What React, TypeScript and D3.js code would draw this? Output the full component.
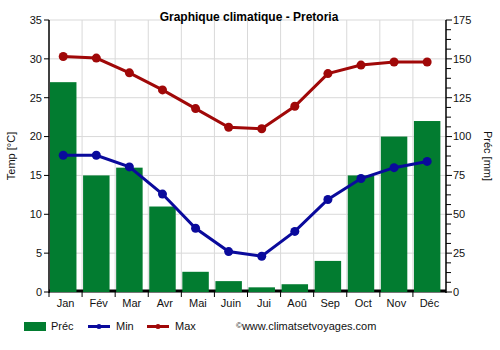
import React from 'react';
import * as d3 from 'd3';

const months = ['Jan', 'Fév', 'Mar', 'Avr', 'Mai', 'Juin', 'Jui', 'Aoû', 'Sep', 'Oct', 'Nov', 'Déc'];
const precip = [135, 75, 80, 55, 13, 7, 3, 5, 20, 75, 100, 110];
const tMin = [17.6, 17.6, 16.1, 12.6, 8.2, 5.2, 4.6, 7.8, 11.9, 14.6, 16.0, 16.8];
const tMax = [30.3, 30.1, 28.2, 26.0, 23.6, 21.2, 21.0, 23.9, 28.1, 29.2, 29.6, 29.6];
const tempTicks = [0, 5, 10, 15, 20, 25, 30, 35];
const precTicks = [0, 25, 50, 75, 100, 125, 150, 175];

const width = 500;
const height = 350;
const margin = { top: 20, right: 54, bottom: 58, left: 49 };
const font = 'Liberation Sans, Arial, sans-serif';

const GREEN = '#027c30';
const BLUE = '#0a0a9c';
const RED = '#a00808';

export default function App() {
  const x = d3
    .scaleBand<string>()
    .domain(months)
    .range([margin.left, width - margin.right]);
  const yT = d3
    .scaleLinear()
    .domain([0, 35])
    .range([height - margin.bottom, margin.top]);
  const yP = d3
    .scaleLinear()
    .domain([0, 175])
    .range([height - margin.bottom, margin.top]);

  const bw = x.bandwidth() * 0.8;
  const cx = (m: string) => (x(m) ?? 0) + 1 + bw / 2;

  const line = d3
    .line<number>()
    .x((_, i) => cx(months[i]))
    .y((d) => yT(d));

  const minorTicks = d3.range(0, 175.01, 6.25).filter((v) => v % 25 !== 0);
  const x0 = margin.left;
  const x1 = width - margin.right;
  const yBase = height - margin.bottom;

  return (
    <svg
      width={width}
      height={height}
      style={{ position: 'absolute', left: 0, top: 0, background: '#fff' }}
      fontFamily={font}
    >
      {/* grille */}
      {tempTicks.map((t) => (
        <line key={'h' + t} x1={x0} x2={x1} y1={yT(t)} y2={yT(t)} stroke="#d9d9d9" strokeWidth={1} />
      ))}
      {months.slice(1).map((m) => (
        <line key={'v' + m} x1={x(m)} x2={x(m)} y1={margin.top} y2={yBase} stroke="#d9d9d9" strokeWidth={1} />
      ))}

      {/* axe x épais */}
      <line x1={x0} x2={x1} y1={yBase - 1} y2={yBase - 1} stroke="#000" strokeWidth={3} />

      {/* barres */}
      {precip.map((p, i) => (
        <rect
          key={'b' + i}
          x={(x(months[i]) ?? 0) + 1}
          y={yP(p)}
          width={bw}
          height={yBase - yP(p)}
          fill={GREEN}
        />
      ))}

      {/* courbes */}
      <path d={line(tMax) ?? ''} fill="none" stroke={RED} strokeWidth={3} />
      <path d={line(tMin) ?? ''} fill="none" stroke={BLUE} strokeWidth={3} />
      {tMax.map((t, i) => (
        <circle key={'cx' + i} cx={cx(months[i])} cy={yT(t)} r={4.5} fill={RED} />
      ))}
      {tMin.map((t, i) => (
        <circle key={'cn' + i} cx={cx(months[i])} cy={yT(t)} r={4.5} fill={BLUE} />
      ))}

      {/* axe gauche */}
      <line x1={x0} x2={x0} y1={margin.top} y2={yBase + 1} stroke="#000" strokeWidth={1.5} />
      {tempTicks.map((t) => (
        <g key={'lt' + t}>
          <line x1={x0 - 5} x2={x0} y1={yT(t)} y2={yT(t)} stroke="#000" />
          <text x={x0 - 7} y={yT(t)} dy="0.35em" textAnchor="end" fontSize={11} fill="#111">
            {t}
          </text>
        </g>
      ))}

      {/* axe droit */}
      <line x1={x1} x2={x1} y1={margin.top} y2={yBase + 1} stroke="#000" strokeWidth={1.5} />
      {precTicks.map((t) => (
        <g key={'rt' + t}>
          <line x1={x1} x2={x1 + 6} y1={yP(t)} y2={yP(t)} stroke="#000" />
          <text x={x1 + 7} y={yP(t)} dy="0.35em" textAnchor="start" fontSize={11} fill="#111">
            {t}
          </text>
        </g>
      ))}
      {minorTicks.map((t) => (
        <line key={'mt' + t} x1={x1} x2={x1 + 5} y1={yP(t)} y2={yP(t)} stroke="#000" />
      ))}

      {/* axe x */}
      {months.map((m) => (
        <line key={'xt' + m} x1={x(m)} x2={x(m)} y1={yBase} y2={yBase + 5} stroke="#000" />
      ))}
      {months.map((m) => (
        <text key={'xl' + m} x={(x(m) ?? 0) + x.bandwidth() / 2} y={yBase + 15} textAnchor="middle" fontSize={11} fill="#111">
          {m}
        </text>
      ))}

      {/* titres */}
      <text x={249} y={21} textAnchor="middle" fontSize={12} fontWeight="bold" fill="#000">
        Graphique climatique - Pretoria
      </text>
      <text transform={`translate(15,${(margin.top + yBase) / 2}) rotate(-90)`} textAnchor="middle" fontSize={11} fill="#111">
        Temp [°C]
      </text>
      <text transform={`translate(484,${(margin.top + yBase) / 2}) rotate(90)`} textAnchor="middle" fontSize={11} fill="#111">
        Préc [mm]
      </text>

      {/* légende */}
      <rect x={24} y={322} width={22} height={9} fill={GREEN} />
      <text x={51} y={330} fontSize={11} fill="#111">Préc</text>
      <line x1={88} x2={110} y1={326.5} y2={326.5} stroke={BLUE} strokeWidth={3} />
      <circle cx={99} cy={326.5} r={2.5} fill={BLUE} />
      <text x={116} y={330} fontSize={11} fill="#111">Min</text>
      <line x1={147} x2={169} y1={326.5} y2={326.5} stroke={RED} strokeWidth={3} />
      <circle cx={158} cy={326.5} r={2.5} fill={RED} />
      <text x={175} y={330} fontSize={11} fill="#111">Max</text>
      <text x={236} y={330} fontSize={11} fill="#111">
        <tspan fontSize={8} dy={-2}>©</tspan>
        <tspan dy={2}>www.climatsetvoyages.com</tspan>
      </text>
    </svg>
  );
}
